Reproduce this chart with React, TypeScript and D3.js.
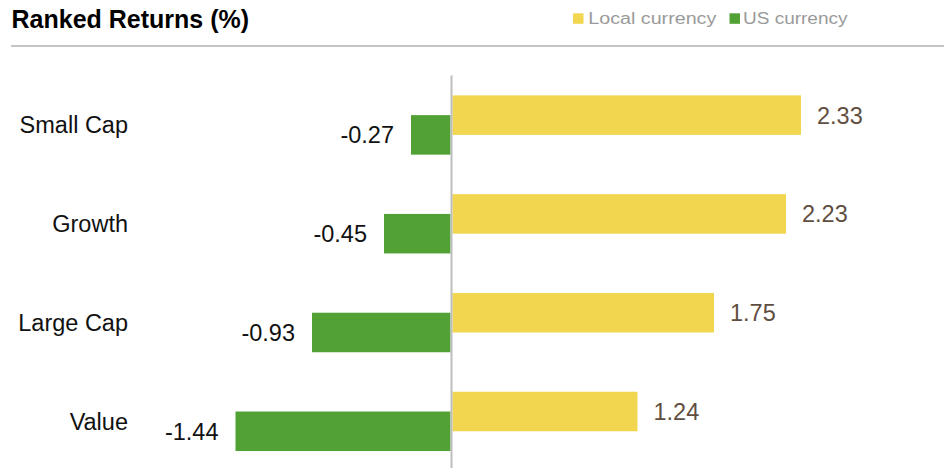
import React from "react";
import * as d3 from "d3";

const categories = ["Small Cap", "Growth", "Large Cap", "Value"];
const localCurrency = [2.33, 2.23, 1.75, 1.24];
const usCurrency = [-0.27, -0.45, -0.93, -1.44];
const seriesNames = ["Local currency", "US currency"];

const W = 951;
const H = 468;
const YELLOW = "#F2D650";
const GREEN = "#52A135";
const FONT = "'Liberation Sans', Arial, sans-serif";

export default function App() {
  const x = d3.scaleLinear().domain([-3, 3]).range([1.5, 901.5]);
  const y = d3.scaleBand<string>().domain(categories).range([75.6, 470.8]).padding(0);
  const step = y.step();
  const bh = step * 0.4;
  const x0 = x(0);

  return (
    <svg
      width={W}
      height={H}
      style={{ position: "absolute", left: 0, top: 0, background: "#fff" }}
      fontFamily={FONT}
    >
      <text x={11.5} y={27.5} fontSize={25} fontWeight="bold" fill="#000">
        Ranked Returns (%)
      </text>
      {/* legend */}
      <rect x={573} y={13.3} width={10.5} height={10.5} fill={YELLOW} />
      <text x={588.3} y={23.5} fontSize={16} fill="#9a9a9a" textLength={128} lengthAdjust="spacingAndGlyphs">
        {seriesNames[0]}
      </text>
      <rect x={729.5} y={13.3} width={10.5} height={10.5} fill={GREEN} />
      <text x={743} y={23.5} fontSize={16} fill="#9a9a9a" textLength={104.5} lengthAdjust="spacingAndGlyphs">
        {seriesNames[1]}
      </text>
      <line x1={11} x2={944} y1={46} y2={46} stroke="#c4c4c4" strokeWidth={2} />

      {categories.map((c, i) => {
        const cy = (y(c) as number) + step / 2;
        const lv = localCurrency[i];
        const uv = usCurrency[i];
        const yTop = cy - bh * 0.75;
        const gTop = cy - bh * 0.25;
        return (
          <g key={c}>
            <rect x={x0 + 1} y={yTop} width={x(lv) - x0 - 1} height={bh} fill={YELLOW} />
            <rect x={x(uv)} y={gTop} width={x0 - 1 - x(uv)} height={bh} fill={GREEN} />
            <text x={128} y={cy + 8.4} textAnchor="end" fontSize={23.5} fill="#111">
              {c}
            </text>
            <text x={x(lv) + 16} y={yTop + bh / 2 + 8.4} fontSize={23.5} fill="#5f4e40">
              {lv.toFixed(2)}
            </text>
            <text x={x(uv) - 17} y={gTop + bh / 2 + 8.4} textAnchor="end" fontSize={23.5} fill="#111">
              {uv.toFixed(2)}
            </text>
          </g>
        );
      })}
      <line x1={x0} x2={x0} y1={75.6} y2={H} stroke="#bdbdbd" strokeWidth={2} />
    </svg>
  );
}
